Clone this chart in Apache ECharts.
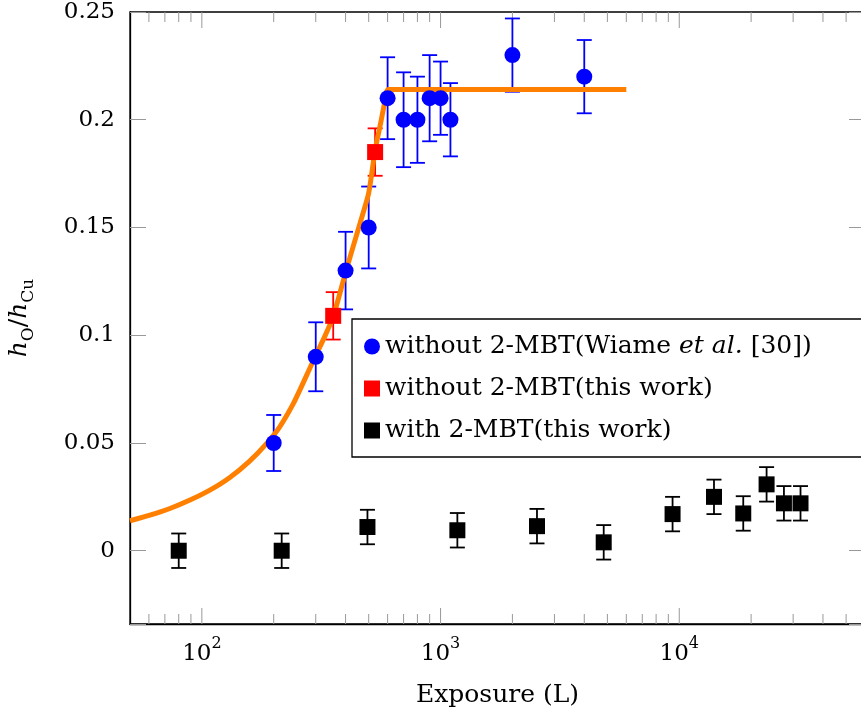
<!DOCTYPE html>
<html>
<head>
<meta charset="utf-8">
<script src="https://cdn.jsdelivr.net/npm/echarts@6/dist/echarts.min.js"></script>
<style>
  html, body { margin: 0; padding: 0; background: #fff; }
  #chart { width: 861px; height: 718px; }
</style>
</head>
<body>
<div id="chart"></div>
<script>
// blue circles: without 2-MBT (Wiame et al.)
const blueX = [200, 300, 400, 500, 600, 700, 800, 900, 1000, 1100, 2000, 4000];
const blueY = [0.05, 0.09, 0.13, 0.15, 0.21, 0.20, 0.20, 0.21, 0.21, 0.20, 0.23, 0.22];
const blueErr = [0.013, 0.016, 0.018, 0.019, 0.019, 0.022, 0.020, 0.020, 0.017, 0.017, 0.017, 0.017];

// red squares: without 2-MBT (this work)
const redX = [355, 532];
const redY = [0.109, 0.185];
const redErr = [0.011, 0.011];

// black squares: with 2-MBT (this work)
const blackX = [80, 216, 494, 1176, 2535, 4825, 9375, 13980, 18540, 23220, 27450, 32210];
const blackY = [0, 0, 0.011, 0.0095, 0.0114, 0.0039, 0.017, 0.025, 0.0173, 0.0308, 0.022, 0.022];
const blackErr = [0.008, 0.008, 0.008, 0.008, 0.008, 0.008, 0.008, 0.008, 0.008, 0.008, 0.008, 0.008];

// orange fit curve
const fitX = [50, 60.6, 73.5, 89.2, 108, 131, 159, 187, 212, 241, 266, 298, 326, 356, 402, 460, 500, 532, 560, 586, 604, 6000];
const fitY = [0.0139, 0.0165, 0.0196, 0.0235, 0.0281, 0.034, 0.0417, 0.0498, 0.0575, 0.068, 0.078, 0.090, 0.099, 0.109, 0.130, 0.152, 0.166, 0.186, 0.198, 0.209, 0.214, 0.214];

// x axis ticks (log)
const majorTicksX = [100, 1000, 10000];
const minorTicksX = [60, 70, 80, 90, 200, 300, 400, 500, 600, 700, 800, 900,
  2000, 3000, 4000, 5000, 6000, 7000, 8000, 9000, 20000, 30000, 40000, 50000];

const xMin = 50, xMax = 60000;
const yMin = -0.034, yMax = 0.25;

const FONT = "DejaVu Serif";
const TICK_GRAY = "#999";

const nameBlue = "without 2-MBT(Wiame et al. [30])";
const nameRed = "without 2-MBT(this work)";
const nameBlack = "with 2-MBT(this work)";

function zip3(xs, ys, es) {
  return xs.map((x, i) => [x, ys[i], es[i]]);
}

// error bar renderer
function errorBars(color) {
  return function (params, api) {
    const x = api.value(0), y = api.value(1), e = api.value(2);
    const top = api.coord([x, y + e]);
    const bot = api.coord([x, y - e]);
    const hw = 7.5;
    const style = { stroke: color, lineWidth: 1.8 };
    return {
      type: "group",
      children: [
        { type: "line", shape: { x1: top[0], y1: top[1], x2: bot[0], y2: bot[1] }, style },
        { type: "line", shape: { x1: top[0] - hw, y1: top[1], x2: top[0] + hw, y2: top[1] }, style },
        { type: "line", shape: { x1: bot[0] - hw, y1: bot[1], x2: bot[0] + hw, y2: bot[1] }, style }
      ]
    };
  };
}

// log ticks on bottom and top edges
function xTicks(params, api) {
  const cs = params.coordSys;
  const x = api.coord([api.value(0), 0])[0];
  const len = api.value(1);
  const style = { stroke: TICK_GRAY, lineWidth: 1 };
  return {
    type: "group",
    children: [
      { type: "line", shape: { x1: x, y1: cs.y + cs.height, x2: x, y2: cs.y + cs.height - len }, style },
      { type: "line", shape: { x1: x, y1: cs.y, x2: x, y2: cs.y + len }, style }
    ]
  };
}

const chart = echarts.init(document.getElementById("chart"));

const option = {
  animation: false,
  backgroundColor: "#fff",
  grid: {
    left: 130, top: 12, right: -4, bottom: 94,
    containLabel: false, outerBoundsMode: "none",
    show: true, borderColor: "#000", borderWidth: 1.3
  },
  legend: {
    orient: "vertical",
    left: 352, top: 319,
    padding: [15, 80, 14, 12],
    itemGap: 17,
    itemWidth: 16, itemHeight: 16,
    borderColor: "#000", borderWidth: 1.3,
    backgroundColor: "#fff",
    textStyle: {
      fontFamily: FONT, fontSize: 25, color: "#000", lineHeight: 24,
      rich: { i: { fontFamily: FONT, fontSize: 25, fontStyle: "italic", color: "#000" } }
    },
    formatter: function (name) {
      return name === nameBlue ? "without 2-MBT(Wiame {i|et al.} [30])" : name;
    },
    data: [
      { name: nameBlue, icon: "circle" },
      { name: nameRed, icon: "rect" },
      { name: nameBlack, icon: "rect" }
    ]
  },
  xAxis: {
    type: "log", logBase: 10, min: xMin, max: xMax,
    name: "Exposure (L)", nameLocation: "middle", nameGap: 59,
    nameTextStyle: { fontFamily: FONT, fontSize: 25, color: "#000" },
    axisLine: { onZero: false, lineStyle: { color: "#000", width: 1.3 } },
    axisTick: { show: false },
    splitLine: { show: false },
    axisLabel: {
      margin: 12,
      fontFamily: FONT, fontSize: 23, color: "#000",
      rich: {
        b: { fontFamily: FONT, fontSize: 23, lineHeight: 30, verticalAlign: "bottom", color: "#000" },
        sup: { fontFamily: FONT, fontSize: 16, lineHeight: 16, verticalAlign: "top", color: "#000" }
      },
      formatter: function (v) {
        const p = Math.log10(v);
        if (Math.abs(p - Math.round(p)) > 1e-6) return "";
        return "{b|10}{sup|" + Math.round(p) + "}";
      }
    }
  },
  yAxis: [
    {
      type: "value", min: yMin, max: yMax, splitNumber: 5,
      name: "{i|h}{s|O}{n|/}{i|h}{s|Cu}",
      nameLocation: "middle", nameRotate: 90, nameGap: 93,
      nameTextStyle: {
        rich: {
          i: { fontFamily: FONT, fontSize: 25, fontStyle: "italic", lineHeight: 30, verticalAlign: "top", color: "#000" },
          n: { fontFamily: FONT, fontSize: 25, lineHeight: 30, verticalAlign: "top", color: "#000" },
          s: { fontFamily: FONT, fontSize: 17, lineHeight: 16, verticalAlign: "bottom", color: "#000" }
        }
      },
      axisLine: { show: true, onZero: false, lineStyle: { color: "#000", width: 1.3 } },
      axisTick: { show: true, inside: true, length: 16, lineStyle: { color: TICK_GRAY, width: 1 } },
      splitLine: { show: false },
      axisLabel: {
        margin: 15, fontFamily: FONT, fontSize: 23, color: "#000",
        formatter: function (v) {
          const k = v / 0.05;
          if (Math.abs(k - Math.round(k)) > 1e-6) return "";
          return String(Math.round(k * 5) / 100);
        }
      }
    },
    {
      type: "value", min: yMin, max: yMax, splitNumber: 5, position: "right",
      axisLine: { show: false },
      axisTick: { show: true, inside: true, length: 16, lineStyle: { color: TICK_GRAY, width: 1 } },
      axisLabel: { show: false },
      splitLine: { show: false }
    }
  ],
  series: [
    {
      type: "custom", silent: true, clip: false, z: 1,
      renderItem: xTicks,
      data: majorTicksX.map(v => [v, 16]).concat(minorTicksX.map(v => [v, 10]))
    },
    {
      type: "custom", silent: true, clip: true, z: 2,
      renderItem: errorBars("#0000ff"), data: zip3(blueX, blueY, blueErr)
    },
    {
      type: "custom", silent: true, clip: true, z: 2,
      renderItem: errorBars("#ff0000"), data: zip3(redX, redY, redErr)
    },
    {
      type: "custom", silent: true, clip: true, z: 2,
      renderItem: errorBars("#000000"), data: zip3(blackX, blackY, blackErr)
    },
    {
      type: "line", z: 3, clip: true, showSymbol: false, silent: true,
      smooth: 0.2,
      data: fitX.map((x, i) => [x, fitY[i]]),
      lineStyle: { color: "#ff8000", width: 5 }
    },
    {
      name: nameBlue, type: "scatter", z: 4, symbol: "circle", symbolSize: 16,
      itemStyle: { color: "#0000ff", opacity: 1 },
      data: blueX.map((x, i) => [x, blueY[i]])
    },
    {
      name: nameRed, type: "scatter", z: 4, symbol: "rect", symbolSize: 16,
      itemStyle: { color: "#ff0000", opacity: 1 },
      data: redX.map((x, i) => [x, redY[i]])
    },
    {
      name: nameBlack, type: "scatter", z: 4, symbol: "rect", symbolSize: 16,
      itemStyle: { color: "#000000", opacity: 1 },
      data: blackX.map((x, i) => [x, blackY[i]])
    }
  ]
};

chart.setOption(option);
</script>
</body>
</html>
